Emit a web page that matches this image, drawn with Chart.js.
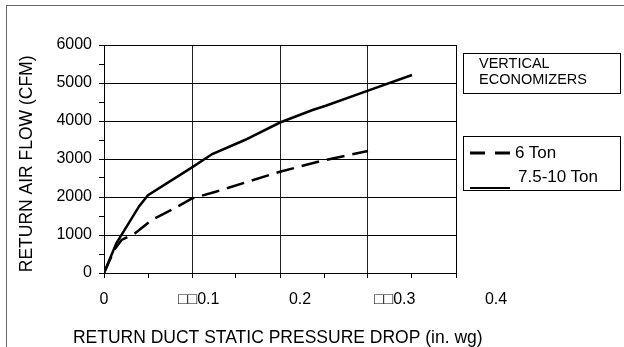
<!DOCTYPE html>
<html>
<head>
<meta charset="utf-8">
<script src="https://cdn.jsdelivr.net/npm/chart.js@4.4.0/dist/chart.umd.min.js"></script>
<style>
  body { margin: 0; background: #fff; font-family: "Liberation Sans", Arial, sans-serif; color: #000; }
  #wrap { position: relative; width: 624px; height: 347px; overflow: hidden; }
  #frame { position: absolute; left: 6px; top: 5px; width: 700px; height: 400px; border: 1px solid #666; }
  #chart { position: absolute; left: 0; top: 0; }
  #note { position: absolute; left: 463px; top: 53px; width: 158px; height: 41px; box-sizing: border-box;
          border: 1px solid #000; font-size: 14.5px; line-height: 16px; padding: 1px 0 0 15px; }
  #legend { position: absolute; left: 463px; top: 136px; width: 158px; height: 55px; box-sizing: border-box;
            border: 1px solid #000; font-size: 17px; line-height: 17px; }
  #legend svg { position: absolute; left: 0; top: 0; }
  #legend span { position: absolute; white-space: nowrap; }
</style>
</head>
<body>
<div id="wrap">
  <div id="frame"></div>
  <canvas id="chart" width="624" height="347"></canvas>
  <div id="note">VERTICAL<br>ECONOMIZERS</div>
  <div id="legend"></div>
</div>
<script>
// curves
const seriesNames = ['6 Ton', '7.5-10 Ton'];
const sixTonX = [0, 0.012, 0.02, 0.035, 0.054, 0.08, 0.1, 0.127, 0.2, 0.248, 0.3];
const sixTonY = [0, 620, 870, 1040, 1390, 1700, 1960, 2140, 2665, 2955, 3210];
const bigTonX = [0, 0.014, 0.04, 0.05, 0.1, 0.123, 0.16, 0.2, 0.237, 0.252, 0.3, 0.35];
const bigTonY = [0, 780, 1760, 2050, 2780, 3130, 3500, 3960, 4290, 4400, 4800, 5210];

const xTickLabels = ['0', '\u25A1\u25A10.1', '0.2', '\u25A1\u25A10.3', '0.4'];
const yTickLabels = ['0', '1000', '2000', '3000', '4000', '5000', '6000'];
const xTitle = 'RETURN DUCT STATIC PRESSURE DROP (in. wg)';
const yTitle = 'RETURN AIR FLOW (CFM)';

// the original labels drift right of their gridlines, titles sit off-centre
const xLabelPad = [0, 3, 9, 12, 18];
const xTitlePad = 15;
const yTitlePad = 2;

const FONT = '"Liberation Sans", Arial, sans-serif';
const toPoints = (xs, ys) => xs.map((x, i) => ({ x: x, y: ys[i] }));
const isMajorX = v => Math.round(v / 0.05) % 2 === 0;
const isMajorY = v => Math.round(v) % 1000 === 0;

const ctx = document.getElementById('chart').getContext('2d');
const chart = new Chart(ctx, {
  type: 'line',
  data: {
    datasets: [
      {
        label: seriesNames[0],
        data: toPoints(sixTonX, sixTonY),
        borderColor: '#000',
        borderWidth: 2.5,
        borderDash: [18, 8],
        pointRadius: 0,
        fill: false,
        tension: 0
      },
      {
        label: seriesNames[1],
        data: toPoints(bigTonX, bigTonY),
        borderColor: '#000',
        borderWidth: 2.5,
        pointRadius: 0,
        fill: false,
        tension: 0
      }
    ]
  },
  options: {
    responsive: false,
    animation: false,
    devicePixelRatio: 1,
    layout: { padding: { left: 0, top: 45, right: 0, bottom: 0 } },
    plugins: {
      legend: { display: false },
      tooltip: { enabled: false },
      title: {
        display: true,
        position: 'bottom',
        align: 'start',
        text: ' '.repeat(xTitlePad) + xTitle,
        color: '#000',
        padding: 0,
        font: { family: FONT, size: 17.5, weight: 'normal', lineHeight: 1 }
      }
    },
    scales: {
      x: {
        type: 'linear',
        min: 0,
        max: 0.4,
        afterFit: s => { s.height = 74 - 17.5; },
        border: { display: true, color: '#000', width: 1 },
        grid: {
          color: c => isMajorX(c.tick.value) ? '#222' : 'transparent',
          tickColor: '#000',
          tickLength: 5,
          lineWidth: 1
        },
        ticks: {
          stepSize: 0.05,
          autoSkip: false,
          maxRotation: 0,
          padding: 12,
          color: '#000',
          font: { family: FONT, size: 16 },
          callback: v => {
            const k = Math.round(v / 0.05);
            if (k % 2) return '';
            return ' '.repeat(xLabelPad[k / 2]) + xTickLabels[k / 2];
          }
        }
      },
      y: {
        type: 'linear',
        min: 0,
        max: 6000,
        afterFit: s => { s.width = 104; },
        border: { display: true, color: '#000', width: 1 },
        grid: {
          color: c => isMajorY(c.tick.value) ? '#000' : 'transparent',
          tickColor: '#000',
          tickLength: 5,
          lineWidth: 1
        },
        ticks: {
          stepSize: 500,
          autoSkip: false,
          padding: 7,
          color: '#000',
          font: { family: FONT, size: 16 },
          callback: v => isMajorY(v) ? yTickLabels[Math.round(v / 1000)] : ''
        },
        title: {
          display: true,
          text: yTitle + ' '.repeat(yTitlePad),
          color: '#000',
          padding: { top: 18, bottom: 0 },
          font: { family: FONT, size: 17.5, lineHeight: 1 }
        }
      },
      // empty right axis: keeps the side panel free and draws the right frame line
      y2: {
        type: 'linear',
        position: 'right',
        min: 0,
        max: 6000,
        afterFit: s => { s.width = 168; },
        border: { display: true, color: '#000', width: 1 },
        grid: { display: false },
        ticks: { display: false }
      }
    }
  }
});

// legend box built from the datasets
const legend = document.getElementById('legend');
const sampleY = [16, 51];
const textTop = [7, 31];
const textLeft = [51, 54];
let svg = '<svg width="158" height="55">';
chart.data.datasets.forEach((d, i) => {
  const dash = d.borderDash ? ' stroke-dasharray="15 10"' : '';
  svg += `<line x1="6" x2="46" y1="${sampleY[i]}" y2="${sampleY[i]}" stroke="#000" stroke-width="${d.borderDash ? 3 : 2}"${dash}/>`;
});
svg += '</svg>';
legend.innerHTML = svg;
chart.data.datasets.forEach((d, i) => {
  const s = document.createElement('span');
  s.textContent = d.label;
  s.style.left = textLeft[i] + 'px';
  s.style.top = textTop[i] + 'px';
  legend.appendChild(s);
});
</script>
</body>
</html>
